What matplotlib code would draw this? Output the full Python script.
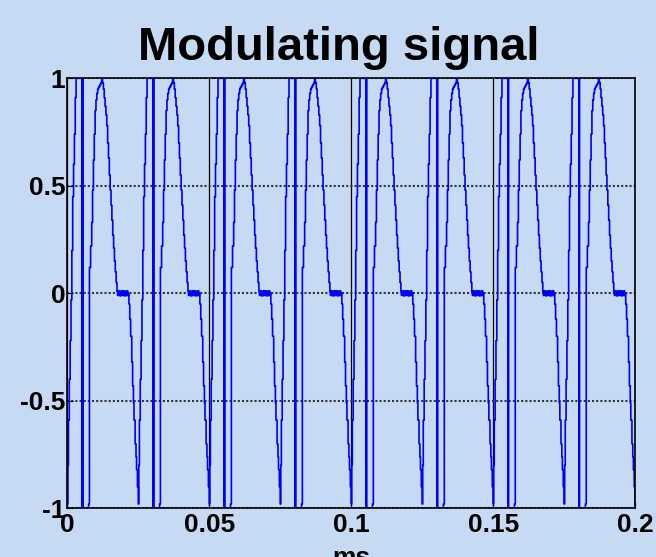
import matplotlib
matplotlib.use("Agg")
import matplotlib.pyplot as plt
import numpy as np

plt.rcParams["font.family"] = ["Liberation Sans", "DejaVu Sans"]
plt.rcParams["font.weight"] = "bold"

# one period of the modulating signal (time in ms)
period = 0.025
cycle_starts = [0.0, 0.025, 0.05, 0.075, 0.1, 0.125, 0.15, 0.175]

rise_t = [0.0, 0.0002, 0.0004, 0.0007, 0.001, 0.0013, 0.0016, 0.0019, 0.0022, 0.0025, 0.0028, 0.0031]
rise_v = [-0.98, -0.80, -0.59, -0.40, -0.22, -0.03, 0.20, 0.45, 0.60, 0.74, 0.91, 1.0]

# square pulse: doubled falling edge (drawn thick in the original), low shelf, jump back up
pulse_t = [0.0053, 0.00535, 0.0054, 0.0075, 0.0078]
pulse_v = [-1.0, 1.0, -1.0, -0.98, 0.12]

hump_t = [0.0082, 0.0086, 0.0089, 0.0092, 0.0095, 0.0098, 0.0101, 0.0104, 0.0107, 0.0110,
          0.0114, 0.0118, 0.0121, 0.0124, 0.0127, 0.0130, 0.0133, 0.0136, 0.0139, 0.0142,
          0.0145, 0.0148, 0.0151, 0.0154, 0.0157, 0.0160, 0.0163, 0.0166, 0.0169, 0.0172]
hump_v = [0.22, 0.33, 0.48, 0.62, 0.74, 0.85, 0.90, 0.93, 0.95, 0.96,
          0.97, 0.98, 1.0, 0.98, 0.95, 0.91, 0.87, 0.83, 0.78, 0.70,
          0.63, 0.55, 0.48, 0.41, 0.34, 0.27, 0.21, 0.15, 0.10, 0.05]

flat_t = [0.0175, 0.0177, 0.0179, 0.0181, 0.0183, 0.0185, 0.0187, 0.0189, 0.0191, 0.0193,
          0.0195, 0.0197, 0.0199, 0.0201, 0.0203, 0.0205, 0.0207, 0.0209, 0.0211, 0.0213]
flat_v = [0.01, -0.01, 0.012, -0.008, 0.01, -0.012, 0.008, -0.01, 0.012, -0.01,
          0.01, -0.008, 0.01, -0.012, 0.01, -0.01, 0.008, -0.01, 0.012, -0.01]

fall_t = [0.0215, 0.0217, 0.0220, 0.0223, 0.0227, 0.0230, 0.0233, 0.0235, 0.0239, 0.0242, 0.0244, 0.0247]
fall_v = [0.0, -0.05, -0.12, -0.20, -0.32, -0.43, -0.51, -0.59, -0.70, -0.76, -0.82, -0.90]

x_ticks = [0, 0.05, 0.1, 0.15, 0.2]
x_labels = ["0", "0.05", "0.1", "0.15", "0.2"]
y_ticks = [-1, -0.5, 0, 0.5, 1]
y_labels = ["-1", "-0.5", "0", "0.5", "1"]

bg = "#C6DBF3"

cycle_t = np.array(rise_t + pulse_t + hump_t + flat_t + fall_t)
cycle_v = np.array(rise_v + pulse_v + hump_v + flat_v + fall_v)
t = np.concatenate([s + cycle_t for s in cycle_starts] + [[cycle_starts[-1] + period]])
v = np.concatenate([cycle_v for _ in cycle_starts] + [[rise_v[0]]])

fig = plt.figure(figsize=(6.56, 5.57), dpi=100, facecolor=bg)
ax = fig.add_axes([0.1026, 0.0874, 0.8655, 0.772])
ax.set_facecolor(bg)

ax.plot(t, v, color="#0000FF", lw=1.2, drawstyle="steps-post")

ax.set_xlim(0, 0.2)
ax.set_ylim(-1, 1)
ax.set_xticks(x_ticks)
ax.set_xticklabels(x_labels)
ax.set_yticks(y_ticks)
ax.set_yticklabels(y_labels)
ax.tick_params(direction="in", length=4, width=0.8, labelsize=19)
ax.tick_params(axis="x", pad=3.5)
ax.tick_params(axis="y", pad=1.5)

ax.xaxis.grid(True, linestyle="-", color="black", lw=0.9)
ax.yaxis.grid(True, linestyle=(0, (1, 1)), color="#333333", lw=1.5)

for sp in ax.spines.values():
    sp.set_color("black")
    sp.set_linewidth(1.2)

ax.set_xlabel("ms", fontsize=19, fontweight="bold", labelpad=6)
fig.text(0.516, 0.892, "Modulating signal", ha="center", va="baseline",
         fontsize=34, fontweight="bold")

fig.savefig("out.png", dpi=100, facecolor=bg)
